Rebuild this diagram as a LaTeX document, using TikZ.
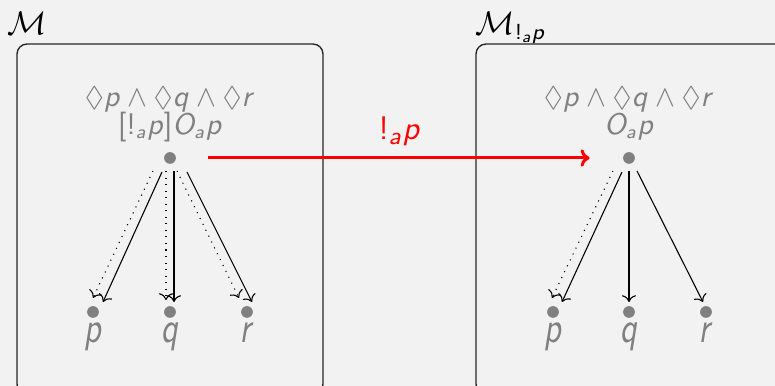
\documentclass[tikz,border=0pt]{standalone}
\usepackage{amssymb}
\usepackage{graphicx}
\usepackage{tikz}
\usetikzlibrary{arrows.meta,calc}
\definecolor{slide}{HTML}{F2F2F2}
\definecolor{faded}{HTML}{808080}
\definecolor{announce}{HTML}{FF0000}
\DeclareSymbolFont{sfslanted}{OT1}{cmss}{m}{sl}
\DeclareSymbolFont{sfupright}{OT1}{cmss}{m}{n}
\DeclareMathSymbol{p}{\mathalpha}{sfslanted}{`p}
\DeclareMathSymbol{q}{\mathalpha}{sfslanted}{`q}
\DeclareMathSymbol{r}{\mathalpha}{sfslanted}{`r}
\DeclareMathSymbol{a}{\mathalpha}{sfslanted}{`a}
\DeclareMathSymbol{O}{\mathalpha}{sfslanted}{`O}
\DeclareMathSymbol{!}{\mathord}{sfupright}{"21}
\DeclareMathSymbol{[}{\mathopen}{sfupright}{"5B}
\DeclareMathSymbol{]}{\mathclose}{sfupright}{"5D}

\begin{document}
\begin{tikzpicture}[x=0.367pt,y=-0.367pt,
  world/.style={draw=black!85,line width=0.5pt,rounded corners=3.7pt},
  state/.style={circle,fill=faded,inner sep=0pt,minimum size=4.3pt},
  fml/.style={text=faded,inner sep=0pt,anchor=base,font=\fontsize{10.5}{12}\selectfont},
  atom/.style={fml,font=\fontsize{11}{12}\selectfont},
  acc/.style={->,line width=0.4pt},
  maybe/.style={acc,dotted},
  update/.style={-{Computer Modern Rightarrow[length=3.3pt,width=6.4pt]},announce,line width=1.1pt}]
\useasboundingbox (0,0) rectangle (775,386);
\fill[slide] (0,0) rectangle (775,386);
\draw[world] (17,44) rectangle (323,394);
\draw[world] (476,44) rectangle (790,394);
\node[anchor=base west,inner sep=0pt,font=\large] (mod) at (7,35) {$\mathcal{M}$};
\node[anchor=base west,inner sep=0pt,font=\large] (upd) at (475,35) {$\mathcal{M}_{!_a p}$};
\node[fml] (wf) at (170,106.5) {$\Diamond p\wedge\Diamond q\wedge\Diamond r$};
\node[fml] (wg) at (170,134.5) {$[!_a p]O_a p$};
\node[fml] (vf) at (629,106.5) {$\Diamond p\wedge\Diamond q\wedge\Diamond r$};
\node[fml] (vg) at (629,134.5) {$O_a p$};
\node[state] (w) at (170,158) {};
\node[state] (wp) at (93,312) {};
\node[state] (wq) at (170,312) {};
\node[state] (wr) at (247,312) {};
\node[state] (v) at (629,158) {};
\node[state] (vp) at (553,312) {};
\node[state] (vq) at (629,312) {};
\node[state] (vr) at (706,312) {};
\node[atom] (wpl) at (93,343) {\scalebox{1.1}[1.45]{$p$}};
\node[atom] (wql) at (170,343) {\scalebox{1.1}[1.45]{$q$}};
\node[atom] (wrl) at (247,343) {\scalebox{1.1}[1.45]{$r$}};
\node[atom] (vpl) at (553,343) {\scalebox{1.1}[1.45]{$p$}};
\node[atom] (vql) at (629,343) {\scalebox{1.1}[1.45]{$q$}};
\node[atom] (vrl) at (706,343) {\scalebox{1.1}[1.45]{$r$}};
\draw[maybe] ($(w)+(-17,13)$) -- ($(wp)+(0,-14)$);
\draw[acc] ($(w)+(-8,14)$) -- ($(wp)+(10,-10)$);
\draw[maybe] ($(w)+(-4,13)$) -- ($(wq)+(-4,-12)$);
\draw[acc] ($(w)+(4,13)$) -- ($(wq)+(4,-10)$);
\draw[maybe] ($(w)+(7,13)$) -- ($(wr)+(-8,-14)$);
\draw[acc] ($(w)+(17,14)$) -- ($(wr)+(5,-10)$);
\draw[maybe] ($(v)+(-16,13)$) -- ($(vp)+(-1,-14)$);
\draw[acc] ($(v)+(-7,14)$) -- ($(vp)+(9,-10)$);
\draw[acc] ($(v)+(0,13)$) -- ($(vq)+(0,-10)$);
\draw[acc] ($(v)+(8,13)$) -- ($(vr)+(-3,-10)$);
\draw[update,shorten <=11.7pt,shorten >=12.1pt] (w) -- (v) node[midway,above=4pt,inner sep=0pt,text=announce,font=\fontsize{12.5}{14}\selectfont] (ann) {$!_a p$};
\end{tikzpicture}
\end{document}
